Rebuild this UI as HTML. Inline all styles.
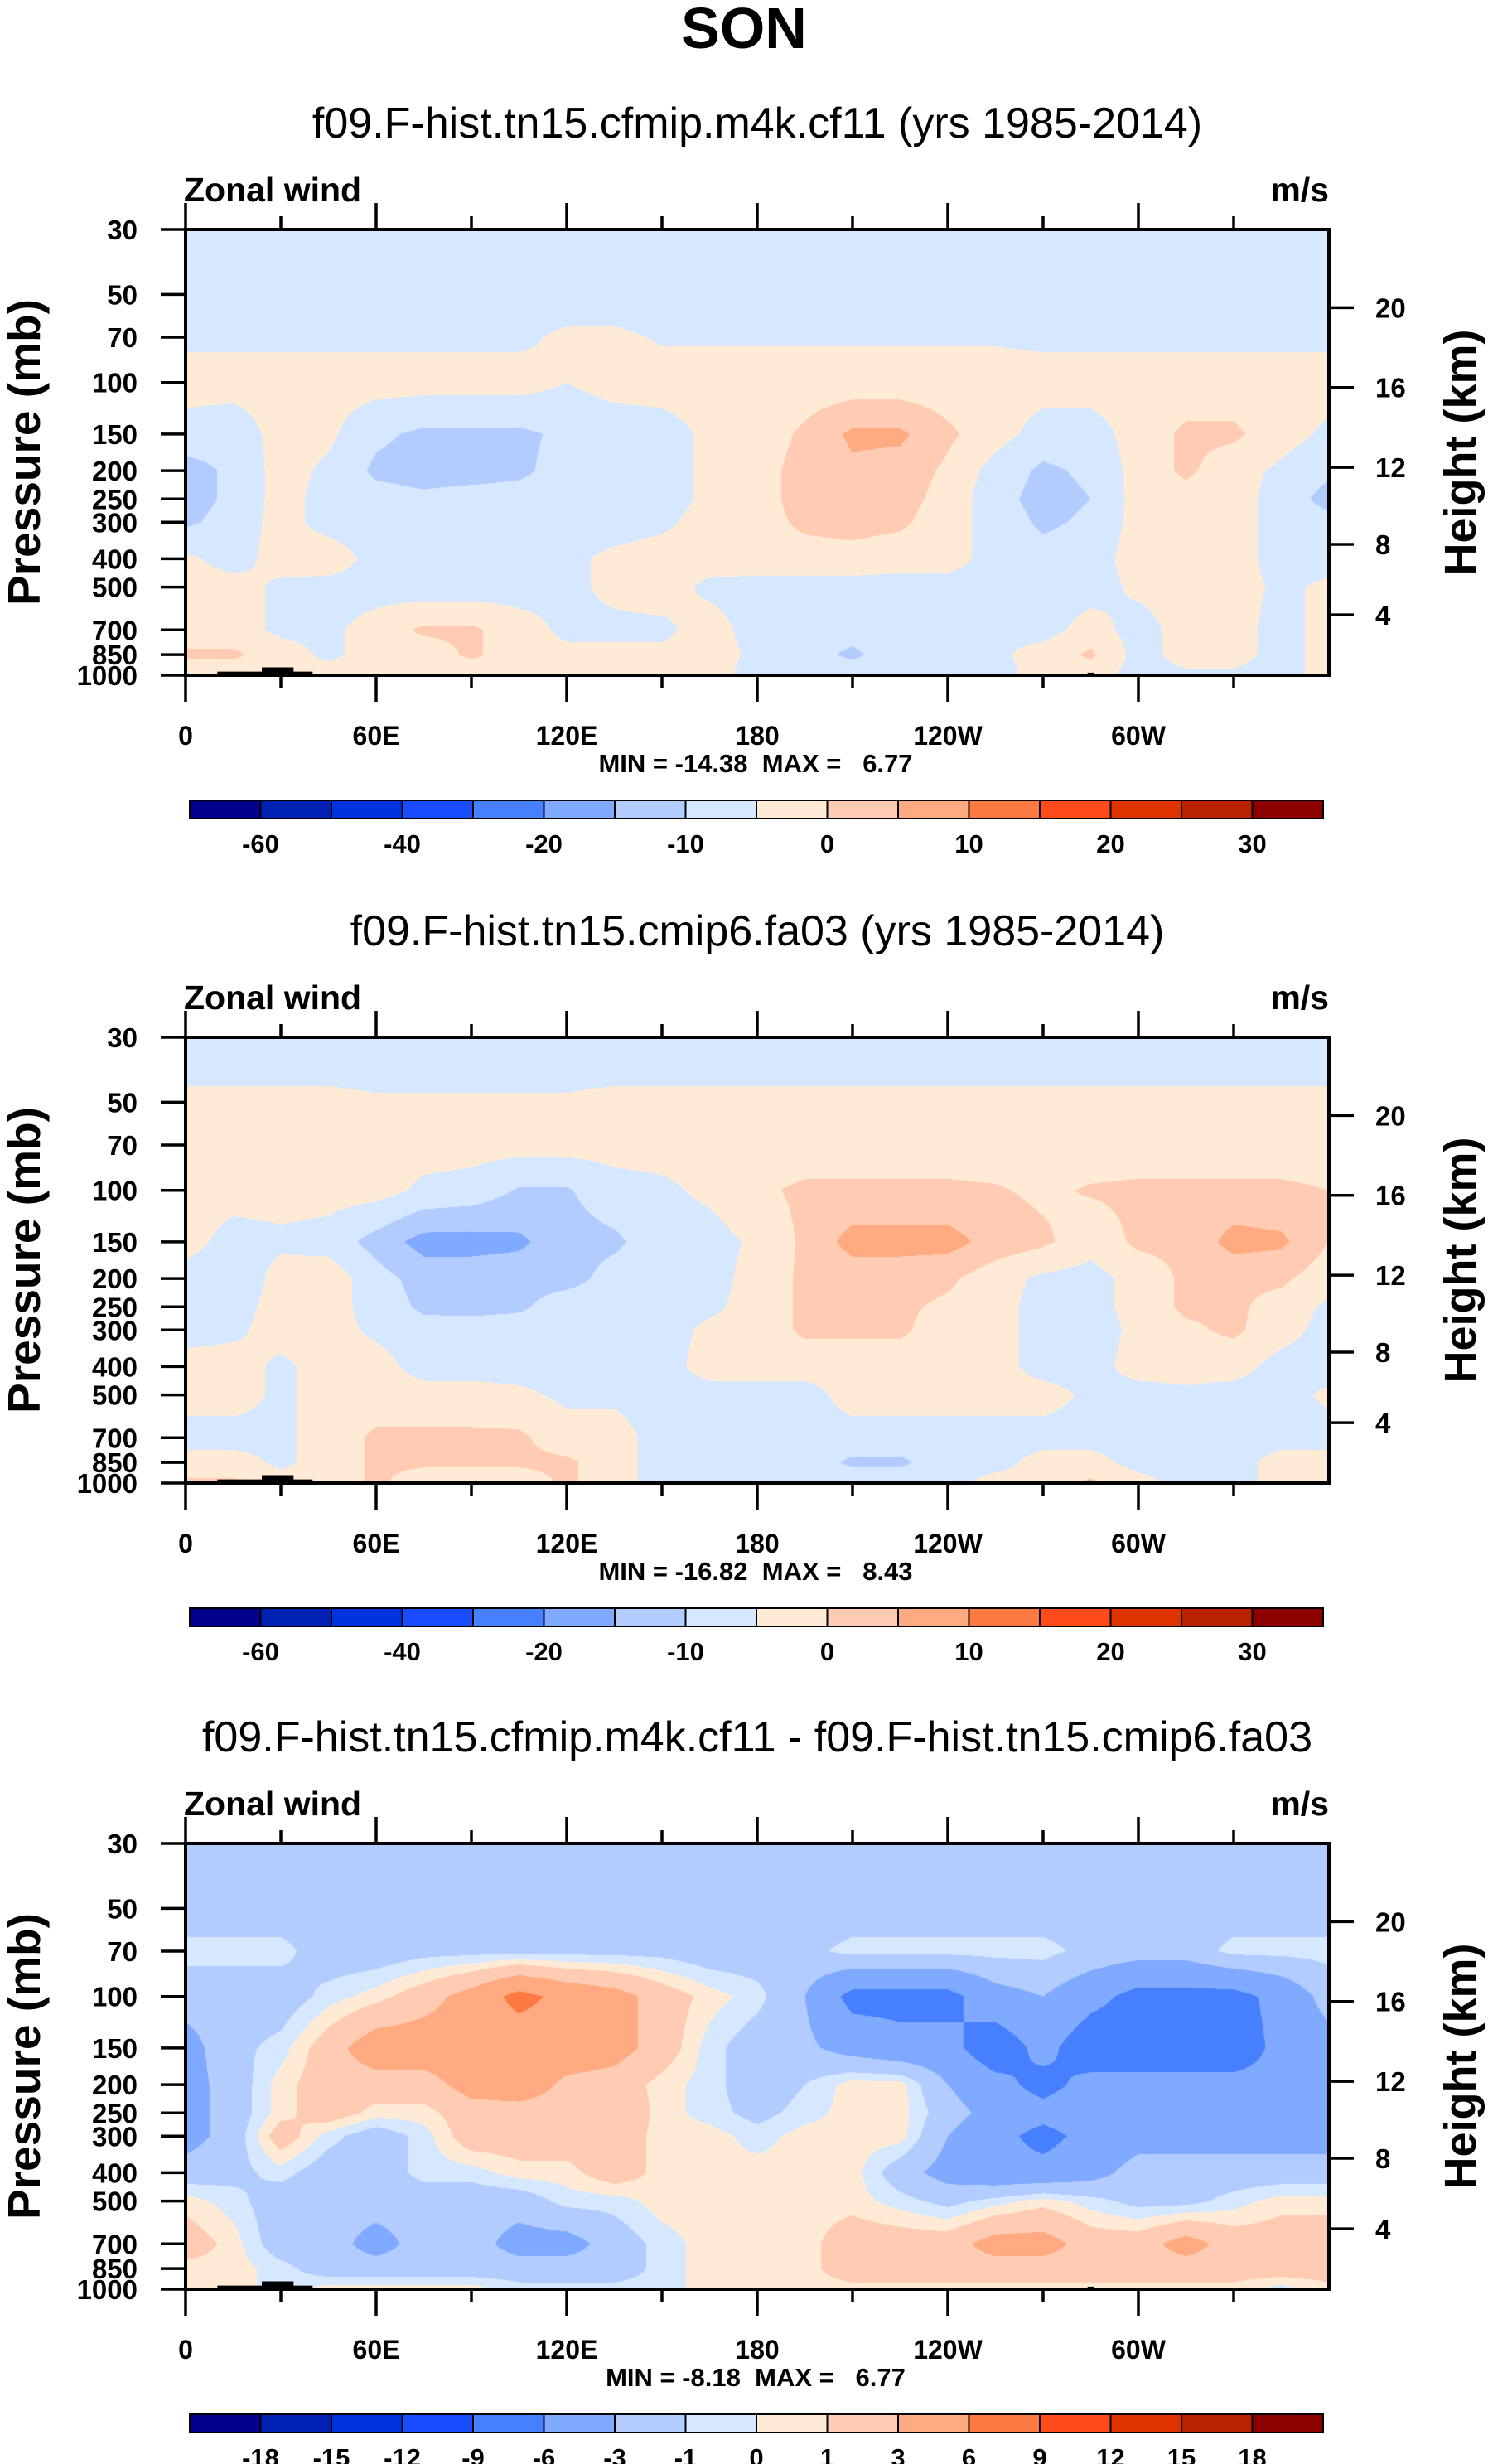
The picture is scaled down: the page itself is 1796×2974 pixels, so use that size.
<!DOCTYPE html>
<html><head><meta charset="utf-8">
<style>
html,body{margin:0;padding:0;background:#fff;}
#root{position:relative;width:1796px;height:2974px;overflow:hidden;background:#fff;}
canvas{position:absolute;}
svg{position:absolute;left:0;top:0;}
text{font-family:"Liberation Sans",Arial,sans-serif;fill:#000;}
</style></head>
<body>
<div id="root">
<canvas id="c0"></canvas>
<canvas id="c1"></canvas>
<canvas id="c2"></canvas>
<svg id="svg" width="1796" height="2974"></svg>
</div>
<script>
// ---- data ----
const lons = [0,15,30,45,60,75,90,105,120,135,150,165,180,195,210,225,240,255,270,285,300,315,330,345,360];
const levels = [30,50,70,100,150,200,250,300,400,500,700,850,1000];
const lonTicks = [0,60,120,180,240,300];
const lonTickLabels = ["0","60E","120E","180","120W","60W"];
const presTicks = [30,50,70,100,150,200,250,300,400,500,700,850,1000];
const heightTicks = [4,8,12,16,20];
const heightTickPres = [622,357,195,104,55.5];
const bounds12 = [-60,-50,-40,-30,-20,-15,-10,-5,0,5,10,15,20,25,30];
const boundLabels12 = ["-60","","-40","","-20","","-10","","0","","10","","20","","30"];
const bounds3 = [-18,-15,-12,-9,-6,-3,-1,0,1,3,6,9,12,15,18];
const boundLabels3 = ["-18","-15","-12","-9","-6","-3","-1","0","1","3","6","9","12","15","18"];
const palette = ["#00008c","#0022b4","#0033e0","#1a4cff","#4680ff","#80aaff","#b3ccff","#d6e8ff","#ffead6","#ffccb3","#ffaa80","#ff7a42","#ff4c1a","#e03400","#b82200","#8c0000"];
const field1 = [
[-8,-8,-8,-8,-8,-8,-8,-8,-8,-8,-8,-8,-8,-8,-8,-8,-8,-8,-8,-8,-8,-8,-8,-8,-8],
[-8,-8,-8,-8,-8,-8,-8,-8,-8,-8,-8,-8,-8,-8,-8,-8,-8,-8,-8,-8,-8,-8,-8,-8,-8],
[-6,-6,-6,-6,-6,-6,-6,-6,-4,-4,-5.5,-5.5,-5.5,-5.5,-5.5,-5.5,-5.5,-5.5,-6,-6,-6,-6,-6,-6,-6],
[-3,-3,-3,-3,-3,-3,-3,-3,-5,-3,-3,-3,-3,-3,-3,-3,-3,-3,-3,-3,-3,-3,-3,-3,-3],
[-7,-8,-3,-4,-9,-11,-11,-11,-9,-8,-7,-4,-3,1,6,6,1,-3,-7,-7,-3,1,1,-3,-6],
[-12,-9,-3,-6,-11,-12,-12,-11,-8,-8,-7,-4,-2,2,4,3,-1,-7,-11,-9,-3,1,-3,-6,-9],
[-12,-9,-3,-7,-8,-9,-8,-8,-8,-7,-7,-4,-2,2,3,2,-2,-8,-12,-10,-3,-2,-3,-7,-12],
[-11,-8,-3,-7,-8,-8,-8,-7,-7,-7,-6,-3,-2,1,2,1,-3,-7,-11,-9,-3,-3,-3,-7,-8],
[-4,-7,-3,-2,-7,-8,-8,-7,-6,-4,-3,-3,-2,-2,-2,-3,-3,-7,-8,-7,-3,-3,-3,-7,-7],
[-3,-3,-6,-7,-7,-8,-8,-7,-6,-4,-3,-6,-7,-7,-7,-7,-7,-7,-7,-7,-4,-3,-3,-6,-4],
[-3,-3,-6,-6,-3,1,1,-3,-6,-6,-6,-3,-7,-8,-8,-7,-7,-6,-7,-3,-7,-3,-3,-7,-3],
[1,1,-3,-6,-3,-3,1,-3,-4,-4,-4,-3,-6,-8,-11,-7,-6,-6,-3,1,-7,-3,-3,-7,-3],
[-3,-3,-3,-3,-3,-3,-3,-3,-3,-3,-3,-3,-7,-7,-7,-7,-7,-7,-3,-3,-7,-6,-6,-7,-3]
];
const field2 = [
[-8,-8,-8,-8,-8,-8,-8,-8,-8,-8,-8,-8,-8,-8,-8,-8,-8,-8,-8,-8,-8,-8,-8,-8,-8],
[-4,-4,-4,-4,-4.5,-4.5,-4.5,-4.5,-4.5,-4,-4,-4,-4,-4,-4,-4,-4,-4,-4,-4,-4,-4,-4,-4,-4],
[-3,-3,-3,-3,-3,-3,-3,-3,-3,-3,-3,-3,-3,-3,-3,-3,-3,-3,-3,-3,-3,-3,-3,-3,-3],
[-3,-3,-3,-3,-3,-6,-7,-10.5,-10.5,-7,-6,-4,-1,1,1,1,1,0.5,-1,0.5,1,1,1,1,0],
[-3,-7,-6,-7,-12,-17,-17,-16,-12,-11,-7,-7,-4,1,7,7,7,3,1,-3,1,1,7,6,0],
[-7,-9,-3,-2,-8,-12,-12,-12,-12,-8,-7,-7,-3,1,2,2,1,-3,-6,-7,-3,1,1,1,-3],
[-7,-7,-3,-3,-7,-11,-12,-11,-7,-7,-7,-6,-3,1,1,1,-1,-3,-7,-7,-3,1,1,-2,-6],
[-7,-6,-3,-3,-6,-8,-7,-7,-7,-7,-7,-4,-3,1,1,1,-3,-3,-7,-7,-4,-1,1,-3,-7],
[-3,-3,-6,-3,-3,-7,-7,-7,-7,-7,-7,-3,-3,-3,-3,-3,-3,-3,-7,-7,-3,-3,-3,-7,-7],
[-3,-3,-6,-3,-3,-3,-3,-4,-6,-6,-7,-7,-7,-7,-3,-3,-3,-3,-3,-6,-7,-6,-7,-7,-4],
[-7,-7,-6,-3,1,1,1,1,-3,-3,-7,-7,-7,-7,-7,-7,-7,-7,-7,-7,-7,-7,-7,-7,-7],
[-3,-3,-6,-3,1,1,1,1,1,-3,-7,-7,-7,-7,-11,-11,-7,-7,-3,-3,-7,-7,-7,-3,-3],
[1,1,-3,-3,1,-3,-3,-3,1,-3,-7,-7,-7,-7,-7,-7,-7,-3,-3,1,-3,-7,-7,-3,-3]
];
const field3 = [
[-2,-2,-2,-2,-2,-2,-2,-2,-2,-2,-2,-2,-2,-2,-2,-2,-2,-2,-2,-2,-2,-2,-2,-2,-2],
[-2,-2,-2,-2,-2,-2,-2,-2,-2,-2,-2,-2,-2,-2,-2,-2,-2,-2,-2,-2,-2,-2,-2,-2,-2],
[-0.5,-0.5,-0.5,-2,-2,-1.5,-1.5,-1.5,-1.5,-1.5,-1.5,-2,-2,-1.5,-0.5,-0.5,-0.5,-0.5,-0.5,-1.5,-2,-2,-0.5,-0.5,-0.5],
[-2,-2,-2,-0.5,0.5,2,4,7,5,4,2,0.5,-0.5,-3,-7,-7,-7,-4,-3,-5,-7,-7,-7,-5,-2],
[-4,-1.5,-0.5,2,4.5,4.5,4.5,4,4.5,4,2,-0.5,-2,-2.5,-4,-5,-5,-8,-5,-8,-8,-8,-8,-5,-4],
[-4,-2,0.5,2,2,2,4,4.5,2.5,2,0.5,-0.5,-2,-1,0.5,0.5,-3,-5,-7,-5,-5,-5,-5,-5,-5],
[-4,-2,0.5,2,0.5,0.5,2,2,2,2.5,0.5,-0.5,-1.5,-0.5,0.5,0.5,-2,-4,-5,-4,-4,-4,-4,-4,-4],
[-4,-2,2,-0.5,-2,-0.5,2,2,2,2,0.5,0.5,-0.5,0.5,0.5,0.5,-3,-5,-7,-5,-4,-4,-4,-4,-4],
[-2,-1.5,-0.5,-2,-2,-0.5,-0.5,0.5,0.5,2,0.5,0.5,0.5,0.5,0.5,-2,-4,-5,-5,-4,-2,-2,-2,-2,-2],
[0.5,-0.5,-2,-2,-2,-2,-2,-2,-0.5,-0.5,0.5,0.5,0.5,0.5,0.5,-0.5,-1.5,-0.5,0.5,-0.5,-1.5,-1.5,-0.5,0.5,0.5],
[2,0.5,-2,-2,-4,-2,-2,-4,-4,-2,-0.5,0.5,0.5,0.5,2,2,2,4,4,2,2,4,2,2,2],
[0.5,0.5,-0.5,-2,-2,-2,-2,-2,-2,-2,-0.5,0.5,0.5,0.5,2,2,2,2,2,2,2,2,2,2,2],
[0.5,0.5,-0.5,0.5,0.5,0.5,0.5,-0.5,-0.5,-0.5,-0.5,0.5,0.5,0.5,0.5,0.5,0.5,0.5,0.5,0.5,0.5,0.5,0.5,-0.5,0.5]
];
const topoLon0 = [10,24,100,119,282,284];
const topoLon1 = [40,34,102,121,311,286];
const topoPres = [972,940,992,992,993,980];
const titles = ["f09.F-hist.tn15.cfmip.m4k.cf11 (yrs 1985-2014)","f09.F-hist.tn15.cmip6.fa03 (yrs 1985-2014)","f09.F-hist.tn15.cfmip.m4k.cf11 - f09.F-hist.tn15.cmip6.fa03"];
const minVals = ["-14.38","-16.82","-8.18"];
const maxVals = ["6.77","8.43","6.77"];

// ---- layout ----
const PL=224, PR=1604, PW=PR-PL, PH=538;
const offsets=[0,975,1948];
const P0=30,P1=1000, LD=Math.log10(P1/P0);
function xOf(lon){return PL+lon/360*PW;}
function yOf(p,top){return top+Math.log10(p/P0)/LD*PH;}
const svg=document.getElementById('svg');
const NS='http://www.w3.org/2000/svg';
function mk(tag,attrs,parent){const e=document.createElementNS(NS,tag);for(const k in attrs)e.setAttribute(k,attrs[k]);(parent||svg).appendChild(e);return e;}
function txt(s,x,y,size,weight,anchor,parent){const t=mk('text',{x:x,y:y,'font-size':size,'font-weight':weight,'text-anchor':anchor},parent);t.textContent=s;return t;}

function sample(field,lon,p){
  let i=Math.min(Math.floor(lon/15),lons.length-2);
  let fx=(lon-lons[i])/15;
  const lp=Math.log(p);
  let j=0;while(j<levels.length-2&&p>levels[j+1])j++;
  let fy=(lp-Math.log(levels[j]))/(Math.log(levels[j+1])-Math.log(levels[j]));
  fy=Math.max(0,Math.min(1,fy));
  const a=field[j][i],b=field[j][i+1],c=field[j+1][i],d=field[j+1][i+1];
  return (a*(1-fx)+b*fx)*(1-fy)+(c*(1-fx)+d*fx)*fy;
}
function binOf(v,bounds){let k=0;while(k<bounds.length&&v>=bounds[k])k++;return k;}
function hexRgb(h){return [parseInt(h.substr(1,2),16),parseInt(h.substr(3,2),16),parseInt(h.substr(5,2),16)];}
const rgbPal=palette.map(hexRgb);

const fields=[field1,field2,field3];
const boundsArr=[bounds12,bounds12,bounds3];
const labelsArr=[boundLabels12,boundLabels12,boundLabels3];

const mt=txt("SON",898,58,70,"bold","middle");



for(let k=0;k<3;k++){
  const off=offsets[k], top=277+off;
  const g=mk('g',{});
  
  
  const cv=document.getElementById('c'+k);
  cv.width=PW;cv.height=PH;cv.style.left=PL+'px';cv.style.top=top+'px';
  const ctx=cv.getContext('2d');const im=ctx.createImageData(PW,PH);
  for(let py=0;py<PH;py++){
    const p=P0*Math.pow(10,(py+0.5)/PH*LD);
    for(let px=0;px<PW;px++){
      const lon=(px+0.5)/PW*360;
      const v=sample(fields[k],lon,p);
      const c=rgbPal[binOf(v,boundsArr[k])];
      const o=(py*PW+px)*4;im.data[o]=c[0];im.data[o+1]=c[1];im.data[o+2]=c[2];im.data[o+3]=255;
    }
  }
  ctx.putImageData(im,0,0);
  for(let t=0;t<topoLon0.length;t++){
    const r=mk('rect',{x:xOf(topoLon0[t]),y:yOf(topoPres[t],top),width:xOf(topoLon1[t])-xOf(topoLon0[t]),height:top+PH-yOf(topoPres[t],top),fill:'#000'},g);
    
    
  }
  const fr=mk('rect',{x:PL,y:top,width:PW,height:PH,fill:'none',stroke:'#000','stroke-width':4},g);
  
  
  for(let lon=0;lon<360;lon+=30){
    const major=lon%60===0, L=major?32:16, x=xOf(lon);
    mk('line',{x1:x,y1:top,x2:x,y2:top-L,stroke:'#000','stroke-width':3.5},g);
    mk('line',{x1:x,y1:top+PH,x2:x,y2:top+PH+L,stroke:'#000','stroke-width':3.5},g);
  }
  lonTicks.forEach((lon,i)=>{
    const t=txt(lonTickLabels[i],xOf(lon),top+PH+84,32,'bold','middle',g);
    
    
  });
  presTicks.forEach(p=>{
    const y=yOf(p,top);
    mk('line',{x1:PL,y1:y,x2:PL-30,y2:y,stroke:'#000','stroke-width':3.5},g);
    const t=txt(String(p),166,y+12,33,'bold','end',g);
    
    
  });
  heightTicks.forEach((h,i)=>{
    const y=yOf(heightTickPres[i],top);
    mk('line',{x1:PR,y1:y,x2:PR+30,y2:y,stroke:'#000','stroke-width':3.5},g);
    const t=txt(String(h),1660,y+12,33,'bold','start',g);
    
    
  });
  let t=txt(titles[k],914,166+off,52,'normal','middle',g);
  
  
  t=txt("Zonal wind",222,243+off,41,'bold','start',g);
  
  
  t=txt("m/s",1604,243+off,41,'bold','end',g);
  
  
  t=txt("MIN = "+minVals[k]+"  MAX =   "+maxVals[k],912,932+off,31,'bold','middle',g);
  t.setAttribute('xml:space','preserve');t.style.whiteSpace='pre';
  
  
  t=txt("Pressure (mb)",0,0,55,'bold','middle',g);
  t.setAttribute('transform','translate(48,'+(top+PH/2)+') rotate(-90)');
  
  
  t=txt("Height (km)",0,0,54,'bold','middle',g);
  t.setAttribute('transform','translate(1781,'+(top+PH/2)+') rotate(-90)');
  
  
  const cbL=229,cbR=1597,cbT=966+off,cbH=22,bw=(cbR-cbL)/16;
  const cb=mk('g',{},g);
  
  
  palette.forEach((c,i)=>{
    const r=mk('rect',{x:cbL+i*bw,y:cbT,width:bw,height:cbH,fill:c,stroke:'#000','stroke-width':2},cb);
    
    
  });
  labelsArr[k].forEach((s,i)=>{
    if(!s)return;
    const tt=txt(s,cbL+(i+1)*bw,cbT+63,31,'bold','middle',cb);
    
    
  });
}
</script>
</body></html>
